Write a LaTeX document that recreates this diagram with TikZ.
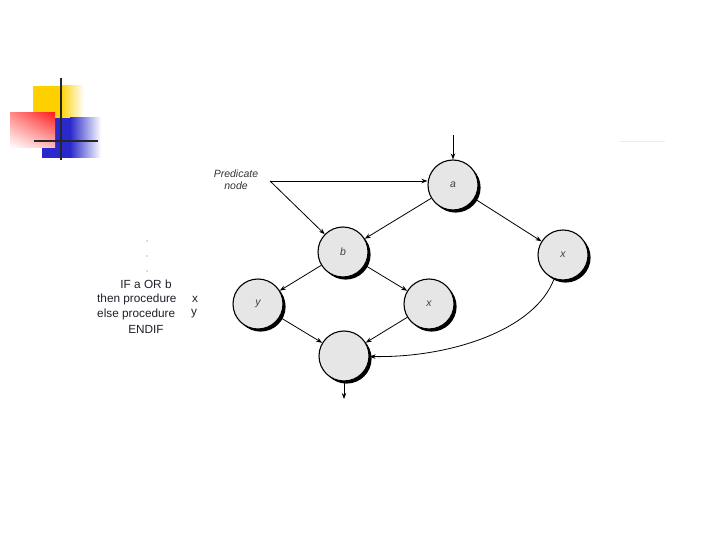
\documentclass[tikz,border=0pt]{standalone}
\usepackage{fontspec}
\setmainfont{Liberation Sans}
\usetikzlibrary{arrows.meta,shadows,shadings}
\definecolor{nodegray}{HTML}{E6E6E6}
\definecolor{txt}{HTML}{231C2A}
\definecolor{logoyellow}{HTML}{FFD000}
\definecolor{logored}{HTML}{FF1E1E}
\definecolor{logoblue}{HTML}{2A2ACC}
\tikzset{
  vert/.style={circle, draw=black, line width=1.1pt, fill=nodegray, minimum size=50pt, inner sep=0pt,
    font=\itshape\fontsize{10.5}{12}\selectfont, text=black!75,
    drop shadow={shadow xshift=2.6pt, shadow yshift=-2.6pt, fill=black, opacity=1}},
  edge/.style={draw=black, line width=0.8pt, -{Stealth[length=6pt,width=4.5pt]}},
  code/.style={font=\fontsize{11.8}{13}\selectfont, text=txt, inner sep=0pt}
}
\begin{document}
\begin{tikzpicture}[x=1pt,y=-1pt]
\useasboundingbox (0,0) rectangle (720,540);
% logo
\fill[logoyellow] (33,86) rectangle (60,120);
\shade[left color=logoyellow, right color=white] (60,86) rectangle (84,120);
\fill[logoblue] (42,118) rectangle (70,158);
\shade[left color=logoblue, right color=white] (70,118) rectangle (101,158);
\shade[upper right=logored, upper left=red!45, lower left=white, lower right=red!25] (10,113) rectangle (55,148);
\draw[line width=2.4pt, black!85] (61,78) -- (61,160);
\draw[line width=2.4pt, black!85] (34,141) -- (98,141);
% faint line
\draw[black!8, line width=0.8pt] (620,141) -- (665,141);
% nodes
\node[vert] (a) at (453,185) {a};
\node[vert] (b) at (343,252) {b};
\node[vert] (xr) at (563,255) {x};
\node[vert] (y) at (258,304) {y};
\node[vert] (xm) at (429,304) {x};
\node[vert] (e) at (344,356) {};
% entry / exit
\coordinate (in) at (453,135);
\coordinate (out) at (344,399);
\draw[edge] (in) -- (a);
\draw[edge] (e) -- (out);
% predicate label
\node[font=\itshape\fontsize{10.5}{12}\selectfont, text=black!80, align=center, inner sep=0pt] (pl) at (236,180) {Predicate\\node};
\coordinate (p) at (270,181);
\draw[edge] (p) -- (a.west |- p);
\draw[edge] (p) -- (b);
% edges
\draw[edge] (a) -- (b);
\draw[edge] (a) -- (xr);
\draw[edge] (b) -- (y);
\draw[edge] (b) -- (xm);
\draw[edge] (y) -- (e);
\draw[edge] (xm) -- (e);
\draw[edge] (xr) .. controls (535,330) and (450,358) .. (e);
% code text
\fill[black!60] (147,241) circle (0.7);
\fill[black!60] (147,256) circle (0.7);
\fill[black!60] (147,271) circle (0.7);
\node[code, anchor=center] (l1) at (146,284) {IF a OR b};
\node[code, anchor=west] (l2) at (97,299) {then procedure};
\node[code, anchor=west] (l2x) at (192,299) {x};
\node[code, anchor=west] (l3) at (97,314) {else procedure};
\node[code, anchor=west] (l3y) at (191,314) {y};
\node[code, anchor=center] (l4) at (146,329) {ENDIF};
\end{tikzpicture}
\end{document}
